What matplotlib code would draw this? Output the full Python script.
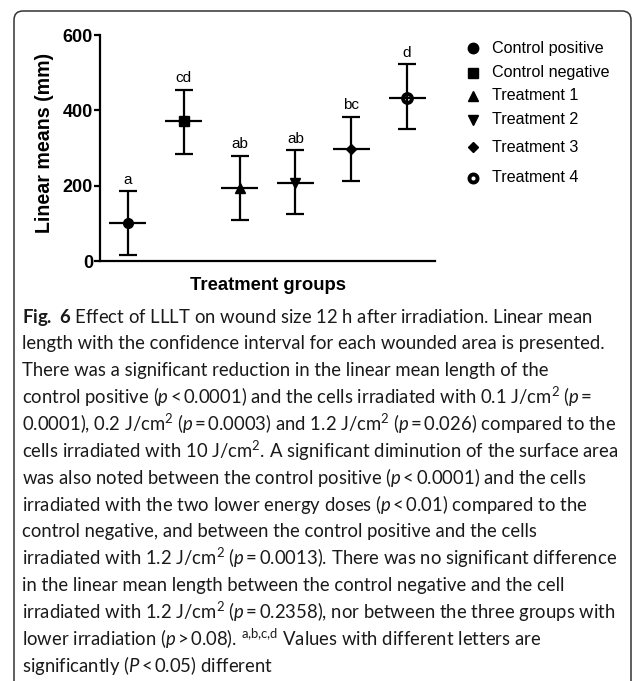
import matplotlib
matplotlib.use("Agg")
import matplotlib.pyplot as plt
from matplotlib.patches import FancyBboxPatch
from matplotlib.lines import Line2D

groups = ["Control positive", "Control negative", "Treatment 1",
          "Treatment 2", "Treatment 3", "Treatment 4"]
means = [100, 371, 193, 208, 298, 434]
upper = [185, 455, 279, 294, 382, 522]
lower = [15, 285, 108, 124, 212, 350]
letters = ["a", "cd", "ab", "ab", "bc", "d"]
markers = ["o", "s", "^", "v", "D", "o"]
yticks = [0, 200, 400, 600]

T = "\u2009"
caption_lines = [
    r"$\bf{Fig.\ 6}$ Effect of LLLT on wound size 12 h after irradiation. Linear mean",
    "length with the confidence interval for each wounded area is presented.",
    "There was a significant reduction in the linear mean length of the",
    r"control positive ($\it{p}$" + T + "<" + T + r"0.0001) and the cells irradiated with 0.1 J/cm$^2$ ($\it{p}$" + T + "=",
    "0.0001), 0.2 J/cm$^2$ ($\\it{p}$" + T + "=" + T + "0.0003) and 1.2 J/cm$^2$ ($\\it{p}$" + T + "=" + T + "0.026) compared to the",
    r"cells irradiated with 10 J/cm$^2$. A significant diminution of the surface area",
    r"was also noted between the control positive ($\it{p}$" + T + "<" + T + "0.0001) and the cells",
    r"irradiated with the two lower energy doses ($\it{p}$" + T + "<" + T + "0.01) compared to the",
    "control negative, and between the control positive and the cells",
    r"irradiated with 1.2 J/cm$^2$ ($\it{p}$" + T + "=" + T + "0.0013). There was no significant difference",
    "in the linear mean length between the control negative and the cell",
    r"irradiated with 1.2 J/cm$^2$ ($\it{p}$" + T + "=" + T + "0.2358), nor between the three groups with",
    r"lower irradiation ($\it{p}$" + T + ">" + T + r"0.08). $^{\mathrm{a{,}b{,}c{,}d}}$ Values with different letters are",
    r"significantly ($\it{P}$" + T + "<" + T + "0.05) different",
]

plt.rcParams["font.family"] = ["Liberation Sans", "DejaVu Sans"]
plt.rcParams["mathtext.fontset"] = "custom"
plt.rcParams["mathtext.rm"] = "Lato"
plt.rcParams["mathtext.it"] = "Lato:italic"
plt.rcParams["mathtext.bf"] = "Lato:bold"

W, H = 633, 681
fig = plt.figure(figsize=(W / 100, H / 100), dpi=100)

# frame
box = FancyBboxPatch((0.14, -0.5), 6.17, 6.70 + 0.5,
                     boxstyle="round,pad=0,rounding_size=0.09",
                     transform=fig.dpi_scale_trans, fill=False,
                     edgecolor="#333333", linewidth=1.1)
fig.patches.append(box)

ax = fig.add_axes([100 / W, 1 - 261 / H, (435 - 100) / W, (261 - 35) / H])
x = list(range(1, len(groups) + 1))
for i in range(len(groups)):
    xi = x[i]
    if i == 5:
        ax.plot([xi], [means[i]], marker="o", ms=6.4, mfc="white", mec="black",
                mew=2.8, ls="none", zorder=2)
    else:
        ax.plot([xi], [means[i]], marker=markers[i],
                ms=7 if markers[i] != "D" else 4.8,
                color="black", ls="none", zorder=2)
    ax.errorbar([xi], [means[i]],
                yerr=[[means[i] - lower[i]], [upper[i] - means[i]]],
                fmt="none", ecolor="black", elinewidth=1.6, capsize=6.2,
                capthick=1.6, zorder=3)
    ax.hlines(means[i], xi - 0.33, xi + 0.33, color="black", lw=1.6, zorder=3)
    ax.annotate(letters[i], (xi, upper[i]), xytext=(0, 5.5),
                textcoords="offset points", ha="center", va="baseline",
                fontsize=11)

ax.set_xlim(0.5, 6.5)
ax.set_ylim(0, 600)
ax.set_yticks(yticks)
ax.set_yticklabels([str(v) for v in yticks], fontweight="bold", fontsize=13)
ax.set_xticks([])
for s in ["top", "right"]:
    ax.spines[s].set_visible(False)
for s in ["left", "bottom"]:
    ax.spines[s].set_linewidth(1.6)
ax.tick_params(axis="y", width=1.6, length=4, pad=1)
ax.set_ylabel("Linear means (mm)", fontweight="bold", fontsize=14.1, va="center")
ax.yaxis.set_label_coords((45 - 100) / 335, (261 - 143) / 226)
ax.set_xlabel("Treatment groups", fontweight="bold", fontsize=13.3, va="center")
ax.xaxis.set_label_coords(0.5, (261 - 285) / 226)

# legend (manual placement to match uneven spacing)
leg_y = [48, 73, 96, 120, 147, 178]
for i in range(len(groups)):
    yf = 1 - leg_y[i] / H
    if i == 5:
        h = Line2D([473 / W], [yf], marker="o", ls="none", ms=5.8, mfc="white",
                   mec="black", mew=2.8, transform=fig.transFigure)
    else:
        h = Line2D([473 / W], [yf], marker=markers[i], ls="none",
                   color="black", transform=fig.transFigure,
                   ms=7.5 if markers[i] != "D" else 5)
    fig.lines.append(h)
    fig.text(492 / W, yf, groups[i], ha="left", va="center", fontsize=11.6)

# caption
y0 = 317
dy = 26.8
renderer = fig.canvas.get_renderer()
probe = fig.text(0, 0, caption_lines[1], fontsize=12.3,
                 family=["Lato", "DejaVu Sans"])
wpx = probe.get_window_extent(renderer).width
probe.remove()
cap_fs = 12.3 * 588.0 / wpx
for k, line in enumerate(caption_lines):
    fig.text(22 / W, 1 - (y0 + k * dy) / H, line, ha="left", va="center",
             fontsize=cap_fs, family=["Lato", "DejaVu Sans"], color="#1a1a1a")

fig.savefig("out.png", dpi=100)
